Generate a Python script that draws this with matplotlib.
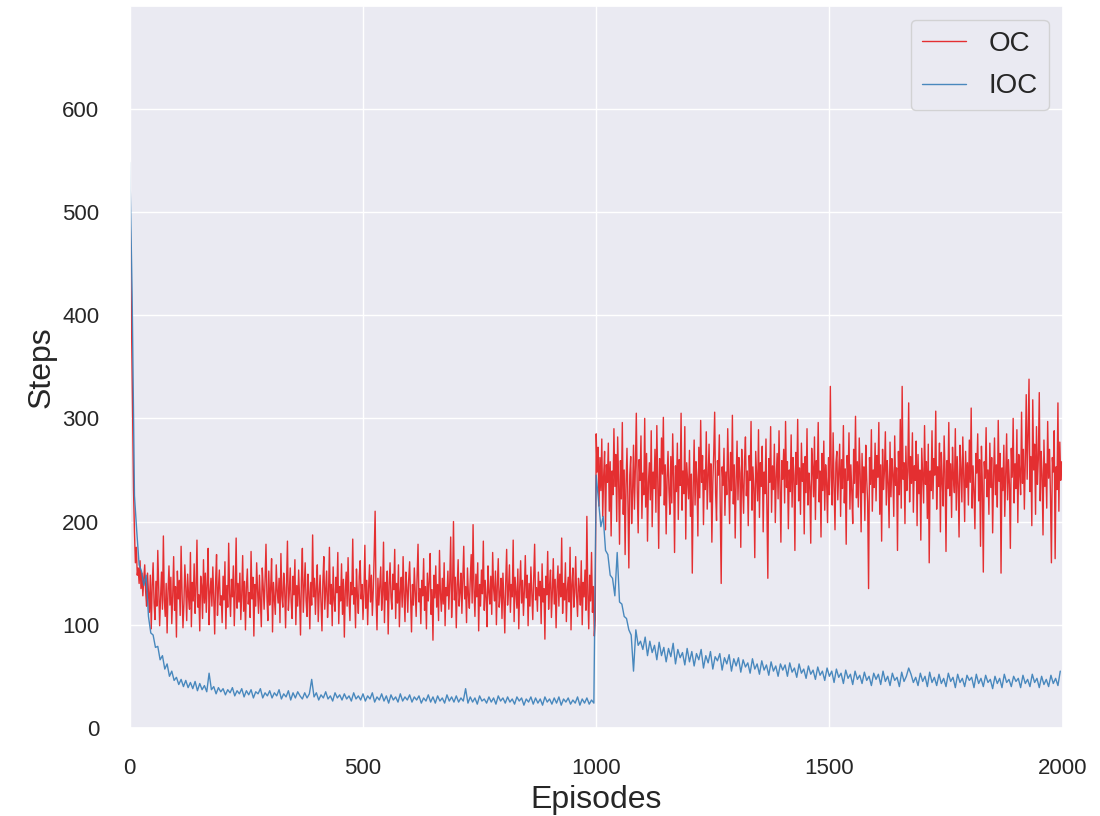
import numpy as np
import matplotlib
matplotlib.use('Agg')
import matplotlib.pyplot as plt
import seaborn as sns

# OC: steps every 2 episodes
oc_steps = [
    521, 455, 380, 300, 230, 190, 160, 175, 148, 155, 140, 162, 135, 150, 128, 145, 158, 132, 118, 150,
    130, 112, 148, 96, 138, 160, 121, 105, 142, 118, 172, 134, 99, 127, 151, 115, 186, 124, 108, 140,
    92, 133, 157, 119, 146, 101, 128, 166, 114, 137, 88, 152, 125, 143, 109, 176, 131, 97, 120, 158,
    136, 104, 149, 127, 115, 170, 98, 141, 123, 159, 111, 134, 182, 117, 129, 94, 147, 138, 106, 163,
    121, 150, 112, 139, 174, 100, 131, 145, 118, 156, 126, 91, 142, 168, 109, 135, 153, 119, 128, 102,
    147, 124, 161, 96, 138, 117, 179, 130, 108, 144, 127, 157, 99, 133, 184, 116, 140, 122, 150, 105,
    129, 167, 113, 142, 95, 136, 154, 120, 131, 107, 171, 125, 146, 89, 139, 118, 160, 132, 111, 148,
    124, 98, 155, 137, 115, 143, 178, 127, 104, 152, 119, 135, 164, 93, 141, 126, 110, 158, 133, 121,
    145, 102, 169, 128, 117, 150, 136, 97, 140, 181, 114, 131, 155, 122, 106, 147, 129, 163, 100, 138,
    118, 153, 126, 90, 144, 174, 112, 135, 160, 123, 108, 149, 132, 96, 141, 119, 187, 127, 145, 110,
    137, 158, 103, 130, 148, 121, 94, 142, 166, 115, 134, 152, 107, 128, 175, 120, 139, 99, 156, 124,
    113, 146, 131, 170, 101, 137, 123, 159, 110, 144, 88, 133, 151, 118, 165, 126, 104, 141, 129, 183,
    120, 136, 97, 154, 128, 111, 147, 162, 125, 139, 105, 131, 177, 116, 143, 100, 135, 158, 122, 148,
    109, 133, 168, 210, 126, 95, 145, 119, 137, 156, 114, 129, 180, 102, 141, 124, 152, 91, 138, 160,
    127, 115, 149, 134, 173, 106, 140, 121, 158, 98, 132, 146, 117, 166, 129, 103, 151, 136, 112, 144,
    161, 125, 93, 139, 119, 155, 131, 108, 147, 178, 122, 135, 101, 143, 128, 164, 114, 137, 96, 150,
    123, 142, 169, 110, 134, 85, 148, 126, 157, 117, 139, 104, 172, 130, 113, 145, 120, 160, 99, 136,
    128, 152, 115, 141, 185, 107, 133, 200, 124, 146, 97, 138, 163, 118, 131, 150, 111, 142, 176, 125,
    137, 102, 155, 129, 116, 144, 168, 121, 197, 134, 108, 149, 127, 160, 94, 139, 118, 153, 130, 181,
    114, 143, 126, 98, 157, 132, 120, 147, 110, 170, 135, 123, 152, 100, 138, 164, 117, 129, 145, 106,
    150, 125, 92, 141, 173, 119, 134, 158, 112, 139, 127, 182, 103, 146, 131, 116, 154, 96, 137, 162,
    121, 143, 109, 133, 167, 126, 148, 99, 140, 118, 156, 130, 105, 145, 178, 124, 136, 113, 151, 128,
    142, 101, 159, 122, 135, 86, 147, 129, 171, 115, 138, 153, 107, 132, 164, 120, 144, 97, 136, 157,
    118, 149, 127, 184, 111, 140, 124, 160, 103, 134, 146, 122, 175, 95, 139, 155, 117, 131, 166, 128,
    108, 145, 136, 119, 162, 100, 141, 127, 153, 114, 205, 130, 96, 148, 123, 170, 112, 137, 89, 105,
    285, 248, 272, 215, 262, 230, 280, 205, 244, 268, 192, 255, 238, 276, 210, 258, 186, 249, 226, 290,
    234, 265, 200, 282, 241, 178, 259, 222, 296, 207, 250, 168, 236, 271, 219, 155, 245, 263, 198, 228,
    274, 212, 252, 305, 231, 189, 260, 240, 283, 203, 247, 226, 300, 214, 266, 181, 238, 257, 221, 288,
    195, 248, 232, 270, 209, 293, 239, 174, 261, 225, 281, 246, 301, 216, 255, 188, 242, 268, 230, 207,
    263, 218, 285, 243, 170, 254, 229, 276, 202, 260, 235, 305, 211, 249, 227, 292, 183, 257, 240, 222,
    269, 205, 246, 150, 233, 279, 216, 258, 241, 186, 272, 223, 298, 238, 264, 197, 250, 231, 287, 212,
    244, 275, 219, 256, 180, 237, 266, 306, 228, 201, 259, 245, 284, 213, 140, 253, 235, 271, 206, 248,
    226, 290, 242, 198, 267, 230, 303, 217, 255, 184, 239, 278, 221, 262, 247, 175, 270, 236, 208, 258,
    282, 225, 249, 196, 264, 240, 297, 211, 253, 232, 165, 268, 244, 220, 289, 204, 257, 234, 273, 190,
    248, 227, 280, 215, 145, 261, 238, 292, 209, 254, 231, 275, 199, 243, 266, 222, 288, 237, 180, 259,
    241, 270, 218, 297, 233, 258, 193, 250, 229, 284, 214, 262, 245, 172, 267, 236, 299, 220, 252, 207,
    276, 239, 256, 188, 263, 228, 290, 216, 247, 234, 179, 271, 253, 224, 282, 202, 259, 242, 296, 219,
    249, 185, 266, 230, 278, 211, 255, 238, 199, 262, 226, 331, 244, 216, 286, 235, 192, 257, 268, 221,
    247, 275, 205, 260, 232, 293, 218, 251, 178, 264, 240, 286, 212, 255, 229, 198, 270, 237, 302, 223,
    258, 214, 281, 246, 190, 266, 228, 253, 201, 274, 241, 219, 135, 262, 236, 289, 210, 250, 233, 276,
    220, 264, 243, 296, 207, 255, 181, 270, 231, 249, 287, 216, 259, 238, 194, 277, 224, 261, 246, 205,
    283, 235, 252, 172, 268, 226, 299, 213, 331, 241, 257, 198, 273, 230, 248, 315, 219, 263, 237, 286,
    209, 254, 240, 278, 196, 265, 227, 250, 182, 271, 244, 218, 293, 236, 258, 203, 275, 160, 249, 230,
    288, 222, 261, 245, 307, 212, 253, 234, 276, 190, 267, 239, 215, 283, 248, 171, 259, 232, 296, 225,
    256, 204, 272, 242, 228, 290, 211, 263, 237, 185, 274, 251, 219, 282, 244, 200, 268, 233, 257, 216,
    279, 238, 310, 213, 254, 229, 193, 266, 247, 285, 220, 260, 176, 273, 235, 151, 258, 242, 291, 224,
    250, 207, 276, 233, 262, 189, 244, 281, 226, 255, 214, 298, 239, 266, 150, 252, 230, 274, 205, 247,
    285, 221, 260, 236, 174, 271, 243, 300, 218, 256, 232, 289, 199, 265, 248, 226, 306, 237, 270, 212,
    258, 323, 241, 284, 338, 229, 263, 196, 318, 250, 275, 207, 292, 236, 261, 325, 220, 268, 245, 187,
    279, 234, 256, 213, 297, 242, 270, 225, 160, 262, 248, 288, 164, 253, 231, 315, 210, 277, 240, 258,
]

# IOC: steps every 5 episodes
ioc_steps = [
    548, 420, 225, 190, 158, 152, 138, 148, 108, 92, 90, 78, 79, 66, 70, 57, 62, 50, 55, 46,
    49, 42, 47, 40, 46, 39, 44, 38, 45, 36, 43, 37, 41, 35, 53, 37, 40, 33, 39, 35,
    38, 32, 37, 34, 39, 31, 36, 33, 38, 30, 36, 32, 37, 29, 35, 33, 38, 29, 34, 31,
    36, 29, 34, 31, 37, 28, 33, 30, 36, 27, 34, 29, 35, 31, 28, 34, 29, 33, 47, 30,
    34, 27, 32, 29, 35, 28, 31, 26, 34, 29, 32, 27, 33, 28, 31, 26, 34, 28, 31, 27,
    33, 26, 31, 28, 34, 25, 30, 27, 33, 26, 31, 24, 32, 27, 30, 25, 33, 26, 30, 27,
    32, 25, 30, 27, 31, 24, 29, 26, 32, 25, 30, 24, 31, 26, 29, 24, 32, 26, 30, 25,
    31, 25, 29, 26, 38, 24, 30, 25, 29, 23, 31, 26, 28, 24, 30, 25, 29, 23, 31, 26,
    29, 24, 30, 25, 28, 23, 30, 26, 29, 22, 28, 25, 30, 23, 29, 24, 28, 22, 30, 25,
    28, 23, 29, 24, 30, 22, 28, 25, 29, 23, 27, 24, 30, 22, 28, 24, 29, 23, 27, 24,
    245, 220, 195, 205, 172, 168, 148, 145, 128, 170, 122, 120, 108, 106, 95, 90, 55, 95, 80, 84,
    76, 88, 70, 84, 73, 80, 66, 83, 70, 78, 64, 77, 69, 82, 62, 76, 68, 73, 61, 77,
    64, 74, 60, 72, 66, 76, 58, 70, 63, 74, 57, 69, 65, 72, 56, 68, 62, 71, 55, 67,
    60, 68, 54, 66, 59, 63, 53, 67, 57, 62, 52, 65, 56, 61, 51, 64, 55, 60, 50, 62,
    56, 61, 50, 63, 54, 58, 49, 62, 53, 57, 48, 60, 52, 56, 47, 59, 51, 55, 46, 58,
    50, 55, 44, 57, 49, 53, 43, 56, 48, 52, 42, 55, 47, 51, 43, 54, 46, 50, 41, 53,
    47, 52, 42, 55, 45, 50, 41, 53, 46, 49, 40, 54, 45, 50, 58, 52, 44, 49, 41, 53,
    45, 50, 40, 54, 44, 49, 41, 52, 43, 48, 40, 53, 45, 49, 39, 52, 44, 48, 40, 51,
    46, 49, 39, 52, 43, 48, 40, 51, 44, 47, 38, 50, 43, 48, 39, 52, 44, 47, 40, 50,
    45, 48, 39, 51, 43, 47, 40, 52, 44, 48, 39, 50, 42, 47, 40, 51, 43, 48, 41, 55,
]

assert len(oc_steps) == 1000 and len(ioc_steps) == 400
oc_episodes = np.arange(len(oc_steps)) * 2
ioc_episodes = np.arange(len(ioc_steps)) * 5

sns.set_theme(style='darkgrid')
plt.rcParams['font.family'] = ['Liberation Sans', 'DejaVu Sans']

fig = plt.figure(figsize=(11, 8.16), dpi=100)
ax = fig.add_axes([0.118, 0.108, 0.848, 0.885])

ax.plot(oc_episodes, oc_steps, color='#e41a1c', lw=1.0, alpha=0.9, label='OC')
ax.plot(ioc_episodes, ioc_steps, color='#377eb8', lw=1.0, alpha=0.9, label='IOC')

ax.set_xlim(0, 2000)
ax.set_ylim(0, 700)
ax.set_xticks([0, 500, 1000, 1500, 2000])
ax.set_yticks([0, 100, 200, 300, 400, 500, 600])
ax.tick_params(labelsize=16, pad=16, colors='#262626')

ax.set_xlabel('Episodes', fontsize=23, color='#262626')
ax.set_ylabel('Steps', fontsize=23, color='#262626')

ax.legend(loc='upper right', fontsize=20, handlelength=1.6, labelspacing=0.6)

fig.savefig('out.png', dpi=100)
